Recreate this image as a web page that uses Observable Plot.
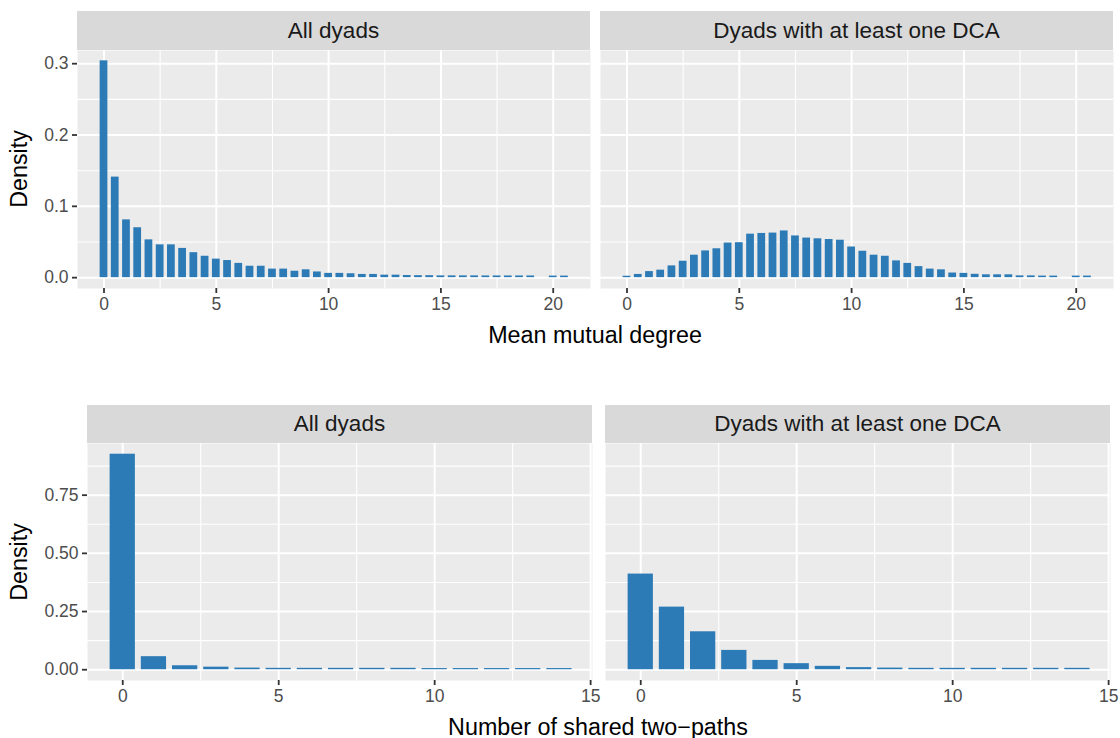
<!DOCTYPE html>
<html>
<head>
<meta charset="utf-8">
<script src="https://cdn.jsdelivr.net/npm/d3@7"></script>
<script src="https://cdn.jsdelivr.net/npm/@observablehq/plot@0.6"></script>
<style>
  body { margin: 0; background: white; }
  #chart { position: relative; width: 1120px; height: 738px; overflow: hidden; background: white;
           font-family: "Liberation Sans", Arial, Helvetica, sans-serif; }
  .strip { position: absolute; background: #D9D9D9; color: #1A1A1A; font-size: 22.5px;
           display: flex; align-items: center; justify-content: center; }
  .title { position: absolute; color: #000; font-size: 23.3px; white-space: nowrap; }
</style>
</head>
<body>
<div id="chart"></div>
<script>
// ---------------- data ----------------
const facetLabels = ["All dyads", "Dyads with at least one DCA"];

// Top row: mean mutual degree (bins every 0.5; no bar at 19.5)
const mmdX = [0, 0.5, 1, 1.5, 2, 2.5, 3, 3.5, 4, 4.5, 5, 5.5, 6, 6.5, 7, 7.5, 8, 8.5, 9, 9.5,
              10, 10.5, 11, 11.5, 12, 12.5, 13, 13.5, 14, 14.5, 15, 15.5, 16, 16.5, 17, 17.5, 18, 18.5, 19,
              20, 20.5];
const mmdAll = [0.304, 0.141, 0.081, 0.070, 0.053, 0.046, 0.046, 0.041, 0.035, 0.030,
                0.026, 0.024, 0.020, 0.016, 0.016, 0.012, 0.012, 0.009, 0.011, 0.008,
                0.006, 0.006, 0.0055, 0.0045, 0.0045, 0.0035, 0.0035, 0.003, 0.0028, 0.0028,
                0.0025, 0.0025, 0.0025, 0.0025, 0.0024, 0.0024, 0.0024, 0.0024, 0.0024,
                0.0022, 0.0022];
const mmdDCA = [0.002, 0.0045, 0.0085, 0.0105, 0.0165, 0.023, 0.0315, 0.0375, 0.0405, 0.0485,
                0.049, 0.061, 0.062, 0.0625, 0.0655, 0.0585, 0.0555, 0.0545, 0.0535, 0.0525,
                0.043, 0.037, 0.0315, 0.030, 0.0235, 0.020, 0.0155, 0.012, 0.011, 0.0065,
                0.006, 0.0047, 0.004, 0.004, 0.004, 0.0025, 0.0025, 0.0022, 0.0022,
                0.0022, 0.0022];

// Bottom row: number of shared two-paths
const tpX = [0, 1, 2, 3, 4, 5, 6, 7, 8, 9, 10, 11, 12, 13, 14];
const tpAll = [0.926, 0.056, 0.017, 0.011, 0.007, 0.006, 0.006, 0.006, 0.006, 0.006,
               0.005, 0.005, 0.005, 0.005, 0.005];
const tpDCA = [0.411, 0.269, 0.163, 0.083, 0.040, 0.026, 0.0145, 0.009, 0.007, 0.006,
               0.006, 0.006, 0.006, 0.006, 0.006];

// ticks
const mmdXTicks = [0, 5, 10, 15, 20];
const mmdXMinor = [2.5, 7.5, 12.5, 17.5];
const mmdYTicks = [0, 0.1, 0.2, 0.3];
const mmdYMinor = [0.05, 0.15, 0.25];
const tpXTicks = [0, 5, 10, 15];
const tpXMinor = [2.5, 7.5, 12.5];
const tpYTicks = [0, 0.25, 0.5, 0.75];
const tpYMinor = [0.125, 0.375, 0.625, 0.875];

const xTitleTop = "Mean mutual degree";
const xTitleBottom = "Number of shared two\u2212paths";
const yTitle = "Density";

// ---------------- drawing ----------------
const chart = document.getElementById("chart");
const FONT = '"Liberation Sans", Arial, Helvetica, sans-serif';
const BAR = "#2C7BB6";

function panel({xs, vs, barW, xDomain, yDomain, xTicks, xMinor, yTicks, yMinor, yFmt,
                showY, marginLeft, marginRight, panelW, panelH}) {
  const data = xs.map((x, i) => ({x, v: vs[i]}));
  const marks = [
    Plot.frame({fill: "#EBEBEB", stroke: "none"}),
    Plot.ruleX(xMinor, {stroke: "white", strokeWidth: 1.1}),
    Plot.ruleY(yMinor, {stroke: "white", strokeWidth: 1.1}),
    Plot.ruleX(xTicks, {stroke: "white", strokeWidth: 2}),
    Plot.ruleY(yTicks, {stroke: "white", strokeWidth: 2}),
    Plot.rect(data, {x1: d => d.x - barW / 2, x2: d => d.x + barW / 2, y1: 0, y2: "v", fill: BAR}),
    Plot.axisX(xTicks, {tickSize: 5, tickPadding: 4, stroke: "#333333", fill: "#4D4D4D",
                        strokeWidth: 1.8, fontSize: 17.5, tickFormat: d => String(d), label: null})
  ];
  if (showY) {
    marks.push(Plot.axisY(yTicks, {tickSize: 5, tickPadding: 4, stroke: "#333333", fill: "#4D4D4D",
                                   strokeWidth: 1.8, fontSize: 17.5, tickFormat: yFmt, label: null}));
  }
  return Plot.plot({
    width: marginLeft + panelW + marginRight,
    height: panelH + 34,
    marginLeft, marginRight, marginTop: 0, marginBottom: 34,
    style: {fontFamily: FONT, background: "transparent", overflow: "visible"},
    x: {domain: xDomain, axis: null},
    y: {domain: yDomain, axis: null},
    marks
  });
}

function place(el, left, top) {
  el.style.position = "absolute";
  el.style.left = left + "px";
  el.style.top = top + "px";
  chart.appendChild(el);
}
function strip(text, left, top, w, h) {
  const d = document.createElement("div");
  d.className = "strip";
  d.style.left = left + "px"; d.style.top = top + "px";
  d.style.width = w + "px"; d.style.height = h + "px";
  d.textContent = text;
  chart.appendChild(d);
}
function title(text, cx, cy, rotate) {
  const d = document.createElement("div");
  d.className = "title";
  d.textContent = text;
  d.style.left = cx + "px"; d.style.top = cy + "px";
  d.style.transform = "translate(-50%, -50%)" + (rotate ? " rotate(-90deg)" : "");
  chart.appendChild(d);
}

const fmt1 = d3.format(".1f"), fmt2 = d3.format(".2f");
const topX = [-1.18, 21.66], topY = [-0.0152, 0.3185];
const botX = [-1.13, 15.06], botY = [-0.0463, 0.972];

// Top row
place(panel({xs: mmdX, vs: mmdAll, barW: 0.345, xDomain: topX, yDomain: topY,
             xTicks: mmdXTicks, xMinor: mmdXMinor, yTicks: mmdYTicks, yMinor: mmdYMinor, yFmt: fmt1,
             showY: true, marginLeft: 77, marginRight: 0, panelW: 513, panelH: 238}), 0, 50);
place(panel({xs: mmdX, vs: mmdDCA, barW: 0.345, xDomain: topX, yDomain: topY,
             xTicks: mmdXTicks, xMinor: mmdXMinor, yTicks: mmdYTicks, yMinor: mmdYMinor, yFmt: fmt1,
             showY: false, marginLeft: 0, marginRight: 7, panelW: 513, panelH: 238}), 600, 50);
strip(facetLabels[0], 77, 11, 513, 39);
strip(facetLabels[1], 600, 11, 513, 39);
title(xTitleTop, 595, 335, false);
title(yTitle, 19, 169, true);

// Bottom row
place(panel({xs: tpX, vs: tpAll, barW: 0.81, xDomain: botX, yDomain: botY,
             xTicks: tpXTicks, xMinor: tpXMinor, yTicks: tpYTicks, yMinor: tpYMinor, yFmt: fmt2,
             showY: true, marginLeft: 87, marginRight: 12, panelW: 505, panelH: 237}), 0, 443);
place(panel({xs: tpX, vs: tpDCA, barW: 0.81, xDomain: botX, yDomain: botY,
             xTicks: tpXTicks, xMinor: tpXMinor, yTicks: tpYTicks, yMinor: tpYMinor, yFmt: fmt2,
             showY: false, marginLeft: 0, marginRight: 12, panelW: 505, panelH: 237}), 605, 443);
strip(facetLabels[0], 87, 405, 505, 38);
strip(facetLabels[1], 605, 405, 505, 38);
title(xTitleBottom, 598, 727, false);
title(yTitle, 19, 562, true);
</script>
</body>
</html>
